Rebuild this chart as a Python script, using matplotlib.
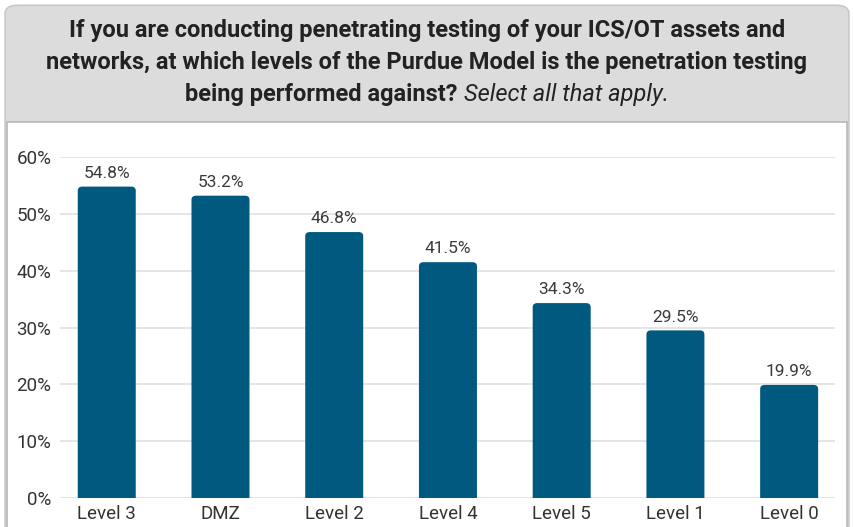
import matplotlib.pyplot as plt
from matplotlib.patches import FancyBboxPatch
from matplotlib import font_manager

categories = ["Level 3", "DMZ", "Level 2", "Level 4", "Level 5", "Level 1", "Level 0"]
values = [54.8, 53.2, 46.8, 41.5, 34.3, 29.5, 19.9]
yticks = [0, 10, 20, 30, 40, 50, 60]
title_lines = ["If you are conducting penetrating testing of your ICS/OT assets and",
               "networks, at which levels of the Purdue Model is the penetration testing"]
title_bold = "being performed against? "
title_italic = "Select all that apply."

names = {f.name for f in font_manager.fontManager.ttflist}
narrow = "Liberation Sans Narrow" if "Liberation Sans Narrow" in names else "Roboto"
plt.rcParams["font.family"] = [narrow, "DejaVu Sans"]

bar_color = "#005a80"
text_color = "#333333"
W, H = 854, 527

fig = plt.figure(figsize=(8.54, 5.27), dpi=100)

# header box and panel
fig.patches.append(FancyBboxPatch((0.006, -0.05), 0.988, 1.04,
                                  boxstyle="round,pad=0,rounding_size=0.015",
                                  transform=fig.transFigure, facecolor="#dcdcdc",
                                  edgecolor="#c8c8c8", linewidth=1.2, zorder=-3))
fig.patches.append(plt.Rectangle((0.008, -0.01), 0.984, 0.778, transform=fig.transFigure,
                                 facecolor="white", edgecolor="#b8b8b8", linewidth=1.2, zorder=-2))

for i, line in enumerate(title_lines):
    fig.text(0.5, 1 - (30 + 33 * i) / H, line, ha="center", va="center", fontsize=17,
             fontweight="bold", color="#222222")
y3 = 1 - 95 / H
t1 = fig.text(0, y3, title_bold, ha="left", va="center", fontsize=17,
              fontweight="bold", color="#222222")
t2 = fig.text(0, y3, title_italic, ha="left", va="center", fontsize=17,
              fontstyle="italic", color="#222222")
r = fig.canvas.get_renderer()
w1 = t1.get_window_extent(r).width
w2 = t2.get_window_extent(r).width
x0 = (W - w1 - w2) / 2
t1.set_x(x0 / W)
t2.set_x((x0 + w1) / W)

ax = fig.add_axes([0.070, 0.055, 0.908, 0.647])
x = list(range(len(categories)))
w = 0.51
for xi, v in zip(x, values):
    p = FancyBboxPatch((xi - w / 2, -5), w, v + 5,
                       boxstyle="round,pad=0,rounding_size=0.04",
                       mutation_aspect=18, facecolor=bar_color, edgecolor="none", zorder=3)
    ax.add_patch(p)
    ax.text(xi, v + 1.0, f"{v:.1f}%", ha="center", va="bottom", fontsize=12.5,
            color="#3a3a3a", zorder=4)

ax.set_xlim(-0.413, 6.405)
ax.set_ylim(0, 60)
ax.set_yticks(yticks)
ax.set_yticklabels([f"{t}%" for t in yticks], fontsize=13.5, color=text_color)
ax.set_xticks(x)
ax.set_xticklabels(categories, fontsize=13.5, color=text_color)
ax.tick_params(length=0)
ax.tick_params(axis="y", pad=6)
ax.tick_params(axis="x", pad=5)
ax.grid(axis="y", color="#e0e0e0", linewidth=1.2, zorder=0)
ax.set_axisbelow(True)
for s in ax.spines.values():
    s.set_visible(False)
ax.patch.set_visible(False)

fig.savefig("out.png", dpi=100)
